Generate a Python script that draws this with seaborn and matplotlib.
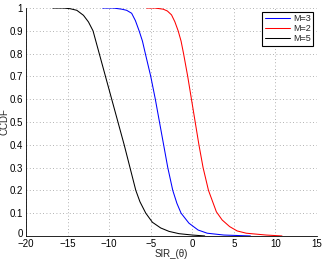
import numpy as np
import pandas as pd
import matplotlib
matplotlib.use("Agg")
import matplotlib.pyplot as plt
import matplotlib.transforms as mtransforms
import seaborn as sns

# ---- values ----
x_m3 = [-10.8, -9.5, -8.5, -7.9, -7.3, -6.85, -6.4, -6.0, -5.65, -5.0, -4.45, -3.95, -3.45,
        -2.95, -2.35, -1.85, -1.35, -0.4, 0.7, 1.8, 3.8, 7.0]
y_m3 = [1.0, 1.0, 0.995, 0.99, 0.977, 0.945, 0.90, 0.855, 0.80, 0.70, 0.60, 0.50, 0.40,
        0.30, 0.20, 0.143, 0.10, 0.056, 0.026, 0.012, 0.004, 0.0]

x_m2 = [-5.5, -4.5, -3.5, -3.0, -2.5, -2.1, -1.7, -1.35, -1.05, -0.55, -0.1, 0.35, 0.8, 1.3,
        1.95, 2.9, 3.6, 4.5, 5.4, 6.5, 8.9, 10.8]
y_m2 = [1.0, 1.0, 0.995, 0.987, 0.97, 0.94, 0.90, 0.855, 0.80, 0.70, 0.60, 0.50, 0.40, 0.30,
        0.20, 0.106, 0.07, 0.041, 0.022, 0.012, 0.004, 0.0]

x_m5 = [-16.8, -15.5, -14.7, -13.9, -13.1, -12.5, -11.95, -11.2, -10.45, -9.7, -8.95, -8.2,
        -7.5, -6.8, -6.3, -5.6, -4.8, -3.8, -2.8, -1.6, 0.0, 1.5]
y_m5 = [1.0, 1.0, 0.997, 0.99, 0.968, 0.939, 0.90, 0.80, 0.70, 0.60, 0.50, 0.40,
        0.30, 0.20, 0.15, 0.10, 0.06, 0.035, 0.02, 0.01, 0.004, 0.0]

labels = ["M=3", "M=2", "M=5"]
colors = ["#0000ff", "#ff0000", "#000000"]
x_ticks = [-20, -15, -10, -5, 0, 5, 10, 15]
y_ticks = [0, 0.1, 0.2, 0.3, 0.4, 0.5, 0.6, 0.7, 0.8, 0.9, 1]

df = pd.concat([
    pd.DataFrame({"sir": x_m3, "ccdf": y_m3, "M": labels[0]}),
    pd.DataFrame({"sir": x_m2, "ccdf": y_m2, "M": labels[1]}),
    pd.DataFrame({"sir": x_m5, "ccdf": y_m5, "M": labels[2]}),
])

sns.set_style("white")
plt.rcParams["font.family"] = ["Liberation Sans", "DejaVu Sans"]

fig = plt.figure(figsize=(3.27, 2.59), dpi=100)
ax = fig.add_axes([0.08, 0.089, 0.889, 0.88])

sns.lineplot(data=df, x="sir", y="ccdf", hue="M", palette=dict(zip(labels, colors)),
             hue_order=labels, linewidth=0.75, ax=ax)

ax.set_xlim(-20, 15)
ax.set_ylim(0, 1)
ax.set_xticks(x_ticks)
ax.set_yticks(y_ticks)
ax.set_xticklabels(["\u221220", "\u221215", "\u221210", "\u22125", "0", "5", "10", "15"])
ax.set_yticklabels(["0", "0.1", "0.2", "0.3", "0.4", "0.5", "0.6", "0.7", "0.8", "0.9", "1"])
ax.tick_params(direction="in", length=3, width=0.6, labelsize=7, pad=2.5, colors="black")
ax.tick_params(axis="x", pad=2.5)
ax.grid(True, linestyle=(0, (1, 3)), color="#999999", linewidth=0.6)
sns.despine(ax=ax)
for s in ["left", "bottom"]:
    ax.spines[s].set_color("black")
    ax.spines[s].set_linewidth(0.6)

# nudge the y "0" up a touch so it does not sit on the "-20"
lbl0 = ax.get_yticklabels()[0]
lbl0.set_transform(lbl0.get_transform() + mtransforms.ScaledTranslation(0, 2 / 72, fig.dpi_scale_trans))

ax.set_xlabel("SIR_(\u03b8)", fontsize=7, labelpad=0)
ax.set_ylabel("CCDF", fontsize=7, labelpad=0)

leg = ax.legend(loc="upper right", fontsize=6.5, frameon=True, fancybox=False,
                handlelength=2.8, handletextpad=0.3, borderpad=0.3, labelspacing=0.1,
                borderaxespad=0.4)
leg.get_frame().set_edgecolor("black")
leg.get_frame().set_linewidth(0.8)
leg.get_frame().set_alpha(1)

fig.savefig("out.png", dpi=100)
